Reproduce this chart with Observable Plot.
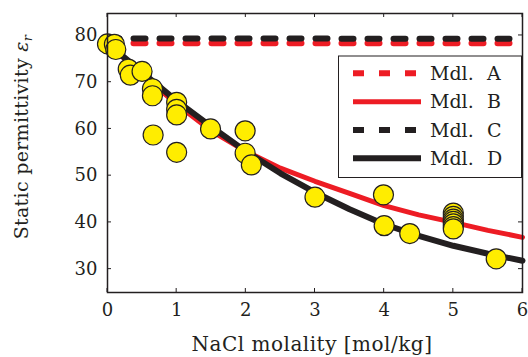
<!DOCTYPE html>
<html><head><meta charset="utf-8">
<script src="https://cdn.jsdelivr.net/npm/d3@7"></script>
<script src="https://cdn.jsdelivr.net/npm/@observablehq/plot@0.6"></script>
<style>body{margin:0;background:#fff}</style>
</head><body><div id="chart"></div>
<script>
// Experimental data: NaCl molality [mol/kg] and static permittivity
const expMolality = [0, 0.1, 0.12, 0.3, 0.33, 0.5, 0.65, 0.65, 0.66, 1.0, 1.0, 1.0, 1.0, 1.49, 1.99, 1.99, 2.08, 3.0, 3.99, 4.0, 4.37, 5.0, 5.0, 5.0, 5.0, 5.0, 5.0, 5.0, 5.62];
const expPermittivity = [78.2, 78.1, 77.0, 72.8, 71.5, 72.3, 68.6, 67.1, 58.7, 65.7, 64.2, 63.0, 55.0, 60.0, 59.6, 54.8, 52.3, 45.4, 45.9, 39.3, 37.6, 42.0, 41.3, 40.7, 40.2, 39.7, 39.1, 38.6, 32.2];

// Model curves
const modelMolality = [0, 0.5, 1, 1.5, 2, 2.5, 3, 3.5, 4, 4.5, 5, 5.5, 6];
const mdlA = [78.35, 78.35, 78.35, 78.35, 78.35, 78.35, 78.35, 78.35, 78.35, 78.35, 78.35, 78.35, 78.35];
const mdlB = [78.3, 71.6, 65.3, 59.6, 55.2, 51.6, 48.8, 46.2, 43.6, 41.6, 40.0, 38.3, 36.8];
const mdlC = [79.35, 79.35, 79.35, 79.35, 79.35, 79.35, 79.35, 79.3, 79.3, 79.3, 79.3, 79.3, 79.3];
const mdlD = [78.3, 72.1, 66.0, 60.5, 55.2, 50.5, 46.4, 42.8, 39.6, 37.1, 35.0, 33.3, 31.8];
const modelNames = ["Mdl. A", "Mdl. B", "Mdl. C", "Mdl. D"];

const xTicks = [0, 1, 2, 3, 4, 5, 6];
const yTicks = [30, 40, 50, 60, 70, 80];

const red = "#ed1c24", black = "#231f20", yellow = "#ffed00";
const font = "'DejaVu Serif', serif";

const exp = expMolality.map((m, i) => ({m, e: expPermittivity[i]}));
const rows = (vals) => modelMolality.map((m, i) => ({m, e: vals[i]}));

const styles = [
  {stroke: red, strokeWidth: 6, strokeDasharray: "12,14"},
  {stroke: red, strokeWidth: 5},
  {stroke: black, strokeWidth: 6, strokeDasharray: "12,14"},
  {stroke: black, strokeWidth: 6}
];
const series = [mdlA, mdlB, mdlC, mdlD];

const plot = Plot.plot({
  width: 528, height: 357,
  marginLeft: 107, marginRight: 6, marginTop: 13, marginBottom: 65,
  style: {fontFamily: font, fontSize: "18px", background: "#fff", color: black},
  x: {domain: [0, 6], label: null},
  y: {domain: [25, 84.7], label: null},
  marks: [
    ...series.map((s, i) => Plot.line(rows(s), {x: "m", y: "e", ...styles[i]})),
    Plot.dot(exp, {x: "m", y: "e", r: 10, fill: yellow, stroke: black, strokeWidth: 1.2}),
    Plot.axisX(xTicks, {anchor: "bottom", tickSize: 0, tickPadding: 11, fontSize: 18}),
    Plot.axisY(yTicks, {anchor: "left", tickSize: 0, tickPadding: 10, fontSize: 18}),
    Plot.frame({stroke: black, strokeWidth: 1.5})
  ]
});

const svg = d3.select(plot);
const xs = plot.scale("x"), ys = plot.scale("y");
const tg = svg.append("g").attr("stroke", black).attr("stroke-width", 1);
yTicks.forEach(t => {
  const y = ys.apply(t);
  tg.append("line").attr("x1", 107).attr("x2", 111).attr("y1", y).attr("y2", y);
  tg.append("line").attr("x1", 518).attr("x2", 522).attr("y1", y).attr("y2", y);
});
xTicks.forEach(t => {
  const x = xs.apply(t);
  tg.append("line").attr("x1", x).attr("x2", x).attr("y1", 292).attr("y2", 288);
  tg.append("line").attr("x1", x).attr("x2", x).attr("y1", 13).attr("y2", 17);
});

// axis titles
svg.append("text").attr("x", 312).attr("y", 351).attr("text-anchor", "middle")
  .attr("font-family", font).attr("font-size", 20).attr("letter-spacing", 0.5).attr("fill", black)
  .text("NaCl molality [mol/kg]");
const yt = svg.append("text").attr("transform", "translate(28,137) rotate(-90)")
  .attr("text-anchor", "middle").attr("font-family", font).attr("font-size", 19)
  .attr("letter-spacing", 0.3).attr("fill", black);
yt.append("tspan").text("Static permittivity ");
yt.append("tspan").attr("font-style", "italic").text("ε");
yt.append("tspan").attr("font-style", "italic").attr("font-size", 13).attr("dy", 4).text("r");

// legend
const lg = svg.append("g");
lg.append("rect").attr("x", 338.5).attr("y", 56).attr("width", 183).attr("height", 121.5)
  .attr("fill", "#fff").attr("stroke", black).attr("stroke-width", 1);
const ly = [73.3, 101.7, 130, 158.3];
modelNames.forEach((name, i) => {
  const st = styles[i];
  lg.append("line").attr("x1", 353).attr("x2", 421).attr("y1", ly[i]).attr("y2", ly[i])
    .attr("stroke", st.stroke).attr("stroke-width", st.strokeWidth)
    .attr("stroke-dasharray", st.strokeDasharray ? "11,15" : null);
  const [a, b] = name.split(" ");
  lg.append("text").attr("x", 430).attr("y", ly[i] + 6.5).attr("font-family", font)
    .attr("text-anchor", "start").attr("font-size", 19).attr("fill", black).text(a);
  lg.append("text").attr("x", 487).attr("y", ly[i] + 6.5).attr("font-family", font)
    .attr("text-anchor", "start").attr("font-size", 19).attr("fill", black).text(b);
});

document.getElementById("chart").appendChild(plot);
</script>
</body></html>
